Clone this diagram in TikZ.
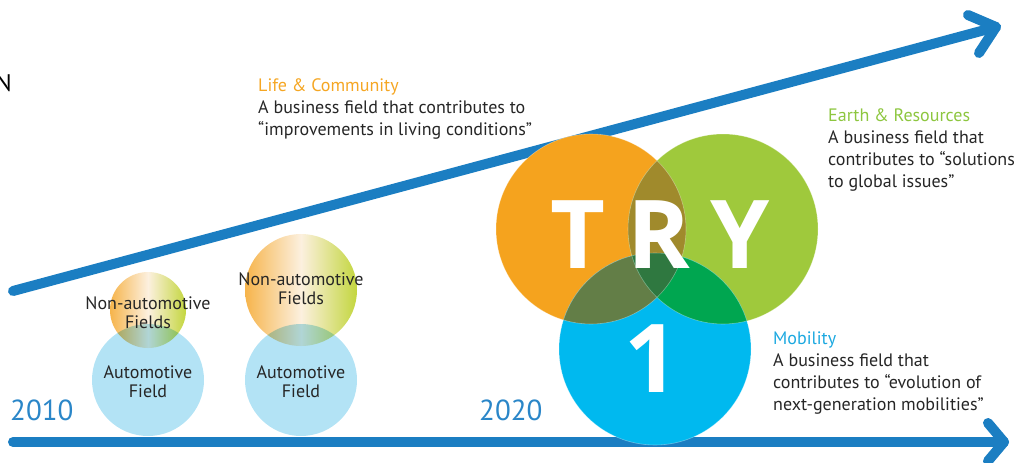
\documentclass[tikz,border=0pt]{standalone}
\usepackage{fontspec}
\setmainfont{PT Sans}
\newfontfamily\bigfont{Open Sans}
\usetikzlibrary{calc}
\definecolor{arrowC}{HTML}{1B7EC2}
\definecolor{yearC}{HTML}{2A86C8}
\definecolor{lifeC}{HTML}{F5A623}
\definecolor{earthC}{HTML}{8DC63F}
\definecolor{mobC}{HTML}{1BA8E0}
\definecolor{autoC}{HTML}{B3E3F5}
\definecolor{gOrange}{HTML}{F6B44B}
\definecolor{gCream}{HTML}{FCF0DF}
\definecolor{gGreen}{HTML}{C3D63E}
\definecolor{cOrange}{HTML}{F5A31E}
\definecolor{cGreen}{HTML}{9FC93C}
\definecolor{cBlue}{HTML}{00B9EF}
\definecolor{cOG}{HTML}{A08A2C}
\definecolor{cOB}{HTML}{637E47}
\definecolor{cGB}{HTML}{00A650}
\definecolor{cAll}{HTML}{2F7840}
\tikzset{
  arrowline/.style={draw=arrowC, line width=10pt, line cap=round, line join=round},
  body/.style={font=\fontsize{18}{21.7}\selectfont, align=left, anchor=base west, inner sep=0pt, text=black!85},
  small/.style={font=\fontsize{18}{19}\selectfont, align=center, inner sep=0pt, text=black!85, anchor=base},
  year/.style={font=\fontsize{29}{30}\selectfont, text=yearC, anchor=base west, inner sep=0pt},
  letter/.style={font=\bigfont\bfseries\fontsize{95}{95}\selectfont, text=white, inner sep=0pt, anchor=base},
  ring/.style={draw=white, draw opacity=0.35, line width=0.6pt},
}
\begin{document}
\begin{tikzpicture}[x=1pt,y=-1pt]
\useasboundingbox (0,0) rectangle (1017,463);
% coordinates
\coordinate (ua0) at (13,291);
\coordinate (ua1) at (996,27);
\coordinate (uaA) at (968,15);
\coordinate (uaB) at (979,53);
\coordinate (la0) at (13,442);
\coordinate (la1) at (1004,442);
\coordinate (laA) at (988,423);
\coordinate (laB) at (988,461);
% small circles
\shade[left color=gOrange, right color=gGreen, middle color=gCream] (148,310) circle[radius=38];
\shade[left color=gOrange, right color=gGreen, middle color=gCream] (301,290) circle[radius=56];
\begin{scope}[blend mode=multiply]
\fill[autoC] (148,380) circle[radius=56];
\fill[autoC] (301,380) circle[radius=56];
\end{scope}
% arrows
\draw[arrowline] (ua0) -- (ua1);
\draw[arrowline] (uaA) -- (ua1) -- (uaB);
\draw[arrowline] (la0) -- (la1);
\draw[arrowline] (laA) -- (la1) -- (laB);
% big circles
\coordinate (cO) at (591,229);
\coordinate (cG) at (723,229);
\coordinate (cB) at (655,349);
\fill[cOrange] (cO) circle[radius=95];
\fill[cGreen] (cG) circle[radius=95];
\fill[cBlue] (cB) circle[radius=96];
\begin{scope}
\clip (cO) circle[radius=95];
\fill[cOG] (cG) circle[radius=95];
\fill[cOB] (cB) circle[radius=96];
\end{scope}
\begin{scope}
\clip (cG) circle[radius=95];
\fill[cGB] (cB) circle[radius=96];
\end{scope}
\begin{scope}
\clip (cO) circle[radius=95];
\clip (cG) circle[radius=95];
\fill[cAll] (cB) circle[radius=96];
\end{scope}
\draw[ring] (cO) circle[radius=95];
\draw[ring] (cG) circle[radius=95];
\draw[ring] (cB) circle[radius=96];
\node[letter] (lT) at (578,268) {T};
\node[letter] (lR) at (659,268) {R};
\node[letter] (lY) at (740,268) {Y};
\node[letter] (l1) at (652,392) {1};
% texts
\node[anchor=base east, inner sep=0pt, font=\fontsize{24}{24}\selectfont] (nN) at (12,91) {N};
\node[body] (life) at (258,135) {\textcolor{lifeC}{Life \& Community}\\A business field that contributes to\\“improvements in living conditions”};
\node[body] (earth) at (828,187) {\textcolor{earthC}{Earth \& Resources}\\A business field that\\contributes to “solutions\\to global issues”};
\node[body] (mob) at (773,410) {\textcolor{mobC}{Mobility}\\A business field that\\contributes to “evolution of\\next-generation mobilities”};
\node[small] (na1) at (148,328) {Non-automotive\\Fields};
\node[small] (na2) at (301,304) {Non-automotive\\Fields};
\node[small] (au1) at (148,397) {Automotive\\Field};
\node[small] (au2) at (301,397) {Automotive\\Field};
\node[year] (y1) at (10,420) {2010};
\node[year] (y2) at (479,420) {2020};
\end{tikzpicture}
\end{document}
